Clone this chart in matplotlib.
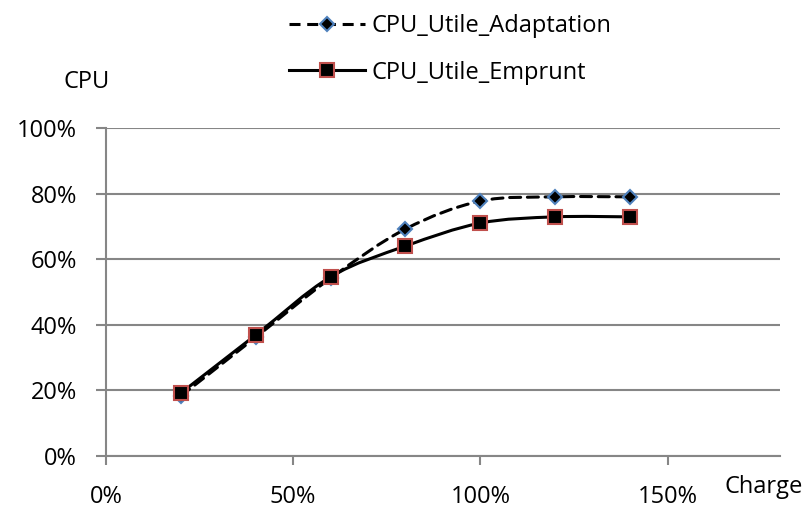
import numpy as np
import matplotlib
matplotlib.use("Agg")
import matplotlib.pyplot as plt
from matplotlib.path import Path
from matplotlib.patches import PathPatch
from matplotlib.lines import Line2D
from matplotlib.ticker import PercentFormatter, MultipleLocator

plt.rcParams["font.family"] = ["Open Sans", "DejaVu Sans"]

charge = [0.2, 0.4, 0.6, 0.8, 1.0, 1.2, 1.4]
cpu_adaptation = [0.183, 0.362, 0.542, 0.692, 0.777, 0.790, 0.790]
cpu_emprunt = [0.192, 0.369, 0.546, 0.640, 0.710, 0.729, 0.729]
labels = ["CPU_Utile_Adaptation", "CPU_Utile_Emprunt"]

GRID = "#868686"
BLUE_EDGE = "#4f81bd"
RED_EDGE = "#c0504d"
FS = 17


def smooth_path(xs, ys):
    # Catmull-Rom style cubic Bezier through the points (spreadsheet "smoothed line")
    pts = np.column_stack([xs, ys]).astype(float)
    n = len(pts)
    verts, codes = [pts[0]], [Path.MOVETO]
    for i in range(n - 1):
        p0 = pts[max(i - 1, 0)]
        p1 = pts[i]
        p2 = pts[i + 1]
        p3 = pts[min(i + 2, n - 1)]
        verts += [p1 + (p2 - p0) / 6, p2 - (p3 - p1) / 6, p2]
        codes += [Path.CURVE4] * 3
    return Path(verts, codes)


fig = plt.figure(figsize=(8.09, 5.11), dpi=100)
ax = fig.add_axes([0.131, 0.1076, 0.833, 0.642])

ax.set_xlim(0, 1.8)
ax.set_ylim(0, 1.0)
ax.xaxis.set_major_locator(MultipleLocator(0.5))
ax.yaxis.set_major_locator(MultipleLocator(0.2))
ax.xaxis.set_major_formatter(PercentFormatter(1.0, decimals=0))
ax.yaxis.set_major_formatter(PercentFormatter(1.0, decimals=0))
ax.grid(axis="y", color=GRID, linewidth=1.5)
ax.set_axisbelow(True)
for side in ("top", "right"):
    ax.spines[side].set_visible(False)
for side in ("left", "bottom"):
    ax.spines[side].set_color(GRID)
    ax.spines[side].set_linewidth(1.5)
ax.tick_params(axis="x", direction="out", length=6.5, width=1.5, color=GRID,
               labelsize=FS, pad=14.5)
ax.tick_params(axis="y", direction="out", length=7, width=1.5, color=GRID,
               labelsize=FS, pad=14)

lw = 2.2
dash = (0, (3.6, 2.2))

ax.add_patch(PathPatch(smooth_path(charge, cpu_adaptation), fill=False,
                       edgecolor="black", linewidth=lw, linestyle=dash,
                       capstyle="round", zorder=3))
ax.plot(charge, cpu_adaptation, linestyle="none", marker="D", markersize=7.6,
        markerfacecolor="black", markeredgecolor=BLUE_EDGE,
        markeredgewidth=1.5, zorder=4)

ax.add_patch(PathPatch(smooth_path(charge, cpu_emprunt), fill=False,
                       edgecolor="black", linewidth=lw, zorder=5))
ax.plot(charge, cpu_emprunt, linestyle="none", marker="s", markersize=10,
        markerfacecolor="black", markeredgecolor=RED_EDGE,
        markeredgewidth=1.5, zorder=6)

handles = [
    Line2D([], [], color="black", linewidth=lw, linestyle=dash, marker="D",
           markersize=7.2, markerfacecolor="black", markeredgecolor=BLUE_EDGE,
           markeredgewidth=1.5),
    Line2D([], [], color="black", linewidth=lw, marker="s", markersize=9.5,
           markerfacecolor="black", markeredgecolor=RED_EDGE,
           markeredgewidth=1.5),
]
fig.legend(handles, labels, loc="upper left", bbox_to_anchor=(0.34, 1.0),
           frameon=False, fontsize=FS, handlelength=3.2, handletextpad=0.3,
           labelspacing=0.95, borderaxespad=0.2)

fig.text(87 / 809, 1 - 82 / 511, "CPU", fontsize=FS, ha="center", va="center")
fig.text(724 / 809, 1 - 487 / 511, "Charge", fontsize=FS, ha="left", va="center")

fig.savefig("out.png", dpi=100)
